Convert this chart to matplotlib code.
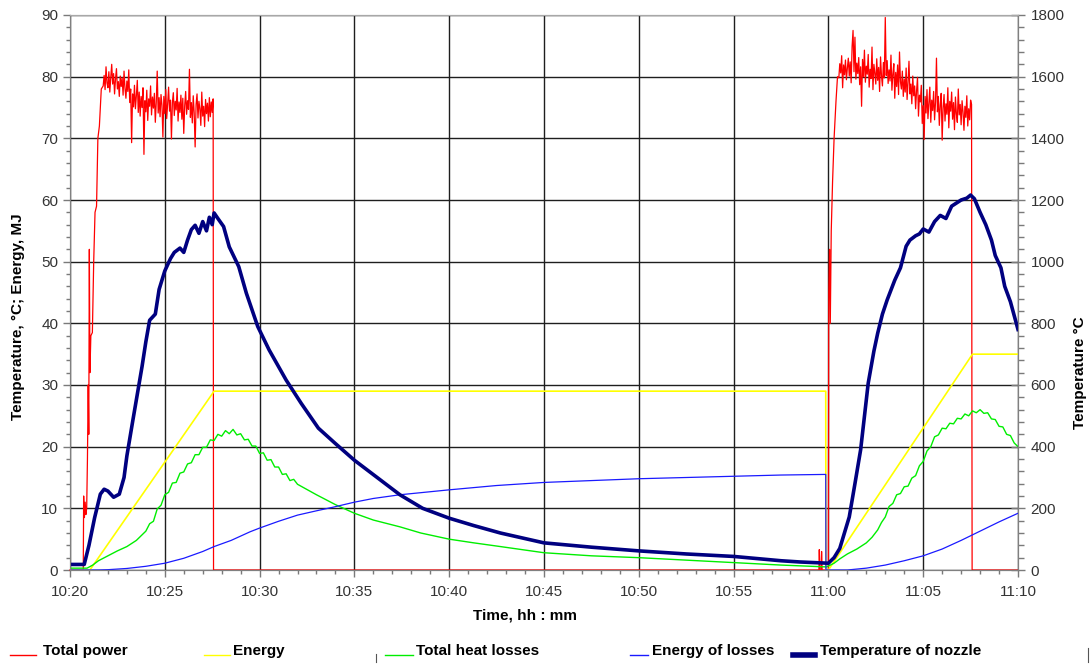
import numpy as np
import matplotlib
matplotlib.use("Agg")
import matplotlib.pyplot as plt
from matplotlib.lines import Line2D
from matplotlib.ticker import MultipleLocator

plt.rcParams['font.family'] = ['Liberation Sans', 'DejaVu Sans']

# ---- time axis: minutes after 10:20 ----
x_ticks = [0, 5, 10, 15, 20, 25, 30, 35, 40, 45, 50]
x_tick_labels = ["10:20", "10:25", "10:30", "10:35", "10:40", "10:45",
                 "10:50", "10:55", "11:00", "11:05", "11:10"]

# ---- Total power ----
power_start_t = [0.0, 0.70, 0.72, 0.76, 0.80, 0.84, 0.88, 0.92, 0.96, 0.99,
                 1.02, 1.05, 1.10, 1.18, 1.25, 1.32, 1.40, 1.47, 1.55, 1.65]
power_start_v = [0, 0, 12, 8.5, 11, 9, 10, 18, 30, 22,
                 52, 32, 38, 38.5, 50, 58, 59, 70, 72, 78]
power_run1_t0 = 1.75   # first heating run, one reading every 0.05 min
power_run1 = [
    78.5, 80.2, 77.9, 81.6, 79.0, 78.2, 80.8, 77.5, 79.9, 82.0,
    78.8, 80.5, 77.2, 79.6, 81.3, 78.0, 79.2, 76.8, 80.1, 78.4,
    79.8, 77.0, 80.9, 78.1, 76.5, 79.3, 77.6, 81.1, 75.8, 78.0,
    69.3, 77.2, 75.1, 78.6, 74.8, 76.9, 79.4, 74.2, 77.5, 73.6,
    76.8, 75.0, 78.2, 67.4, 76.1, 74.3, 77.8, 72.9, 76.4, 75.2,
    78.5, 73.8, 76.7, 74.9, 77.3, 72.6, 75.9, 80.9, 74.1, 76.6,
    73.5, 77.1, 75.4, 70.2, 76.8, 74.0, 77.9, 73.2, 75.6, 78.3,
    74.4, 76.2, 69.9, 75.8, 77.4, 73.7, 76.0, 74.6, 78.1, 72.8,
    75.9, 74.2, 77.0, 73.1, 76.5, 70.8, 75.3, 77.6, 73.9, 76.1,
    74.7, 81.2, 73.4, 75.8, 72.5, 76.9, 74.1, 68.6, 75.5, 77.2,
    73.3, 76.0, 74.8, 72.1, 77.5, 73.6, 75.2, 71.9, 76.3, 74.0,
    75.7, 72.8, 76.6, 73.5, 75.9, 74.2, 76.4]
power_idle_t = [7.57, 39.50, 39.52, 39.55, 39.62, 39.64, 39.67, 40.00]
power_idle_v = [0, 0, 3.3, 0, 0, 3.0, 0, 0]
power_restart_t = [40.02, 40.06, 40.10, 40.15, 40.22, 40.30, 40.40, 40.48]
power_restart_v = [45, 52, 40, 55, 63, 70, 76, 80]
power_run2_t0 = 40.55  # second heating run, one reading every 0.05 min
power_run2 = [
    79.8, 82.1, 80.6, 83.4, 78.2, 81.9, 80.3, 82.7, 79.5, 81.4,
    83.0, 80.1, 82.4, 79.0, 84.9, 87.5, 80.8, 86.4, 79.6, 82.2,
    80.5, 83.1, 78.7, 81.6, 75.2, 82.8, 80.0, 84.3, 79.1, 81.7,
    80.4, 83.6, 78.3, 81.2, 79.7, 84.8, 77.9, 82.0, 80.6, 78.8,
    82.9, 79.4, 81.5, 77.6, 83.2, 80.1, 78.5, 82.3, 79.8, 89.6,
    80.2, 82.6, 78.9, 81.1, 79.3, 83.5, 77.8, 80.4, 82.1, 76.5,
    80.7, 78.4, 81.9, 77.1, 84.0, 79.2, 78.0, 80.9, 76.8, 79.6,
    77.5, 81.4, 76.3, 79.0, 82.5, 77.2, 78.8, 75.6, 80.1, 76.9,
    78.5, 74.8, 77.7, 79.9, 73.6, 77.0, 75.9, 78.6, 72.4, 75.3,
    69.8, 76.8, 74.1, 77.9, 73.2, 75.7, 78.3, 72.6, 76.2, 74.5,
    77.6, 73.0, 75.9, 83.0, 74.3, 76.8, 72.1, 75.4, 77.3, 69.7,
    74.9, 77.1, 72.8, 75.6, 73.9, 78.2, 71.7, 76.0, 74.4, 77.5,
    73.1, 75.8, 71.4, 76.7, 74.0, 72.6, 78.0, 73.8, 75.5, 72.2,
    76.1, 74.3, 71.3, 75.2, 73.4, 76.9, 72.0, 74.8, 73.0, 76.2,
    75.5]
power_end_t = [47.58, 50.0]
power_end_v = [0, 0]

# ---- Energy, MJ ----
energy_t = [0.0, 1.05, 7.60, 39.86, 39.87, 40.00, 47.60, 50.0]
energy_v = [0, 0, 29, 29, 0, 0, 35, 35]

# ---- Total heat losses ----
losses_a_t = [0.0, 0.9, 1.2, 1.5, 2.0, 2.5, 3.0, 3.5]
losses_a_v = [0.3, 0.3, 0.8, 1.5, 2.3, 3.1, 3.8, 4.8]
losses_b_t0 = 4.0      # readings every 0.2 min
losses_b_v = [6.3, 7.5, 7.9, 9.9, 10.5, 12.2, 12.6, 14.1, 14.2, 15.7,
              15.9, 17.2, 17.4, 18.7, 18.7, 19.9, 19.9, 21.1, 21.0, 22.0,
              21.7, 22.6, 22.1, 22.8, 21.9, 22.1, 21.1, 21.2, 20.1, 20.1,
              18.9, 19.0, 17.8, 17.9, 16.7, 16.7, 15.5, 15.6, 14.5, 14.7,
              13.9]
losses_c_t = [13.0, 14.0, 15.0, 16.0, 17.4, 18.5, 20.0, 21.3, 22.7, 25.0,
              27.5, 30.0, 32.5, 35.0, 37.5, 39.9, 40.3, 40.6, 41.0, 41.5,
              42.0, 42.3]
losses_c_v = [12.2, 10.6, 9.2, 8.1, 7.0, 6.0, 5.0, 4.4, 3.8, 2.8,
              2.3, 2.0, 1.6, 1.2, 0.8, 0.5, 1.1, 1.8, 2.6, 3.4,
              4.4, 5.3]
losses_d_t0 = 42.6     # readings every 0.2 min
losses_d_v = [6.5, 7.7, 8.6, 10.3, 10.8, 12.2, 12.4, 13.5, 13.6, 14.9,
              15.3, 16.9, 17.6, 19.3, 20.0, 21.6, 21.9, 23.0, 22.9, 23.8,
              23.7, 24.6, 24.5, 25.3, 25.0, 25.8, 25.5, 26.0, 25.4, 25.5,
              24.5, 24.4, 23.3, 23.2, 22.0, 21.8, 20.6, 20.0]

# ---- Energy of losses, MJ ----
loss_energy_t = [0.0, 1.5, 2.0, 3.0, 4.0, 5.0, 6.0, 7.0, 7.6, 8.5,
                 9.5, 10.0, 11.0, 12.0, 13.0, 13.9, 15.0, 16.0, 17.4, 20.0,
                 22.5, 25.0, 27.5, 30.0, 32.5, 35.0, 37.5, 39.86, 39.87, 41.0,
                 42.0, 43.0, 44.0, 45.0, 46.0, 47.0, 47.6, 48.0, 49.0, 50.0]
loss_energy_v = [0, 0, 0.05, 0.25, 0.6, 1.1, 1.9, 3.0, 3.8, 4.8,
                 6.2, 6.8, 7.9, 8.9, 9.6, 10.2, 11.0, 11.6, 12.2, 13.0,
                 13.7, 14.2, 14.5, 14.8, 15.0, 15.2, 15.4, 15.5, 0, 0,
                 0.3, 0.8, 1.5, 2.3, 3.4, 4.8, 5.7, 6.3, 7.8, 9.2]

# ---- Temperature of nozzle, °C ----
nozzle_t = [0.0, 0.75, 1.0, 1.3, 1.6, 1.8, 2.0, 2.3, 2.6, 2.85,
            3.0, 3.3, 3.5, 3.8, 4.0, 4.2, 4.5, 4.7, 5.0, 5.3,
            5.5, 5.8, 6.0, 6.2, 6.4, 6.6, 6.8, 7.0, 7.2, 7.35,
            7.5, 7.6, 7.8, 8.1, 8.4, 8.9, 9.3, 9.9, 10.5, 11.4,
            12.2, 13.1, 14.0, 15.0, 16.2, 17.4, 18.6, 20.0, 21.3, 22.7,
            25.0, 27.5, 30.0, 32.5, 35.0, 37.5, 38.5, 40.0, 40.3, 40.6,
            41.1, 41.4, 41.7, 42.1, 42.4, 42.6, 42.85, 43.1, 43.5, 43.8,
            44.1, 44.3, 44.6, 44.8, 45.0, 45.3, 45.6, 45.9, 46.2, 46.5,
            46.8, 47.0, 47.3, 47.5, 47.7, 48.0, 48.3, 48.6, 48.8, 49.1,
            49.3, 49.6, 50.0]
nozzle_v = [18, 18, 80, 170, 246, 262, 256, 236, 246, 300,
            370, 480, 552, 660, 740, 810, 830, 910, 970, 1010,
            1030, 1044, 1030, 1070, 1104, 1118, 1092, 1130, 1100, 1144,
            1120, 1158, 1140, 1114, 1048, 984, 898, 790, 714, 616,
            540, 460, 410, 356, 300, 244, 200, 168, 144, 120,
            88, 74, 62, 52, 44, 30, 26, 22, 40, 70,
            172, 280, 390, 606, 710, 768, 830, 876, 940, 980,
            1050, 1070, 1084, 1090, 1106, 1096, 1130, 1150, 1140, 1180,
            1192, 1200, 1206, 1216, 1204, 1160, 1120, 1070, 1020, 980,
            920, 870, 780]

# ---- assemble sampled series ----
run1_t = power_run1_t0 + 0.05 * np.arange(len(power_run1))
run2_t = power_run2_t0 + 0.05 * np.arange(len(power_run2))
power_t = np.concatenate([power_start_t, run1_t, power_idle_t,
                          power_restart_t, run2_t, power_end_t])
power_v = np.concatenate([power_start_v, power_run1, power_idle_v,
                          power_restart_v, power_run2, power_end_v])

losses_t = np.concatenate([losses_a_t,
                           losses_b_t0 + 0.2 * np.arange(len(losses_b_v)),
                           losses_c_t,
                           losses_d_t0 + 0.2 * np.arange(len(losses_d_v))])
losses_v = np.concatenate([losses_a_v, losses_b_v, losses_c_v, losses_d_v])

# ---- figure ----
W, H = 1091, 664
fig = plt.figure(figsize=(W / 100, H / 100), dpi=100)
ax = fig.add_axes([70 / W, 1 - 570 / H, 948 / W, 555 / H])
ax2 = ax.twinx()

ax.set_axisbelow(True)
ax.grid(True, which='major', color='#1e1e1e', linewidth=1.0)

ax.plot(power_t, power_v, color='#ff0000', linewidth=0.9, clip_on=False)
ax.plot(energy_t, energy_v, color='#ffff00', linewidth=1.2)
ax.plot(losses_t, losses_v, color='#00ee00', linewidth=1.0)
ax.plot(loss_energy_t, loss_energy_v, color='#1a1aff', linewidth=0.9)
ax2.plot(nozzle_t, nozzle_v, color='#000080', linewidth=2.6,
         solid_joinstyle='round')

ax.set_xlim(0, 50)
ax.set_ylim(0, 90)
ax2.set_ylim(0, 1800)

ax.set_xticks(x_ticks)
ax.set_xticklabels(x_tick_labels)
ax.set_yticks(np.arange(0, 91, 10))
ax2.set_yticks(np.arange(0, 1801, 200))
ax.xaxis.set_minor_locator(MultipleLocator(1))
ax.yaxis.set_minor_locator(MultipleLocator(2))
ax2.yaxis.set_minor_locator(MultipleLocator(40))

tick_col = '#7a7a7a'
label_col = '#333333'
ax.tick_params(axis='both', which='major', direction='out', length=5,
               width=1, color=tick_col, labelsize=11, labelcolor=label_col)
ax.tick_params(axis='both', which='minor', direction='out', length=3,
               width=1, color=tick_col)
ax.tick_params(axis='x', which='major', pad=6)
ax2.tick_params(axis='y', which='major', direction='inout', length=10,
                width=1, color=tick_col, labelsize=11, labelcolor=label_col,
                pad=4)
ax2.tick_params(axis='y', which='minor', direction='out', length=4,
                width=1, color=tick_col)

for a in (ax, ax2):
    for side in ('left', 'right', 'bottom'):
        a.spines[side].set_color('#808080')
    a.spines['top'].set_color('#a8a8a8')

# axis titles
fig.text(18 / W, 1 - 317 / H, 'Temperature, \u00b0C; Energy, MJ', rotation=90,
         ha='center', va='center', fontsize=11, fontweight='bold')
fig.text(1080 / W, 1 - 373 / H, 'Temperature \u00b0C', rotation=90,
         ha='center', va='center', fontsize=11, fontweight='bold')
fig.text(525 / W, 1 - 615 / H, 'Time, hh : mm', ha='center', va='center',
         fontsize=11, fontweight='bold')

# legend along the bottom edge
legend_items = [
    ('Total power', '#ff0000', 1.0, 10, 36, 43),
    ('Energy', '#ffff00', 1.0, 204, 230, 233),
    ('Total heat losses', '#00ee00', 1.0, 385, 413, 416),
    ('Energy of losses', '#1a1aff', 1.0, 630, 648, 652),
    ('Temperature of nozzle', '#000080', 4.0, 793, 815, 820),
]
ly = 1 - 655 / H
for name, col, lw, x0, x1, xt in legend_items:
    fig.add_artist(Line2D([x0 / W, x1 / W], [ly, ly], color=col, linewidth=lw,
                          transform=fig.transFigure))
    fig.text(xt / W, 1 - 651 / H, name, ha='left', va='center', fontsize=11,
             fontweight='bold')
fig.add_artist(Line2D([376 / W, 376 / W], [1 - 654 / H, 1 - 662 / H],
                      color='#555555', linewidth=0.8, transform=fig.transFigure))
fig.add_artist(Line2D([1088 / W, 1088 / W], [1 - 648 / H, 1 - 662 / H],
                      color='#555555', linewidth=0.8, transform=fig.transFigure))

fig.savefig('out.png', dpi=100)
